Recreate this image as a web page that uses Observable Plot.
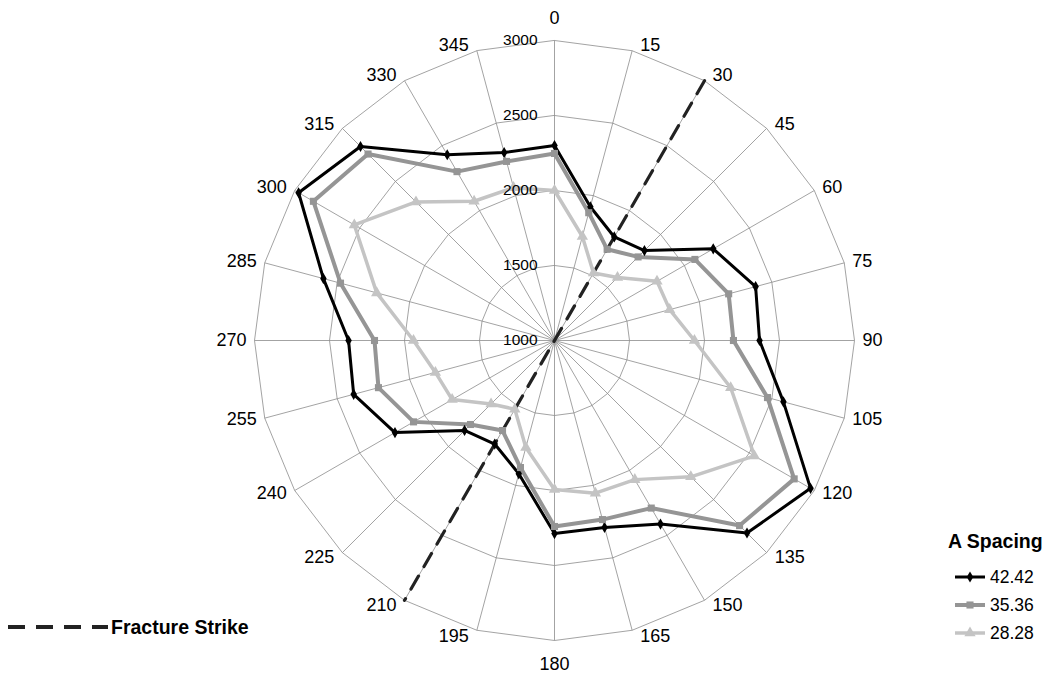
<!DOCTYPE html>
<html>
<head>
<meta charset="utf-8">
<script src="https://cdn.jsdelivr.net/npm/d3@7"></script>
<script src="https://cdn.jsdelivr.net/npm/@observablehq/plot@0.6"></script>
<style>
  html, body { margin: 0; padding: 0; background: #fff; }
  #wrap { position: relative; width: 1049px; height: 677px; font-family: "Liberation Sans", Arial, sans-serif; }
  #chart svg { display: block; }
  .leg { position: absolute; display: flex; align-items: center; color: #000; white-space: nowrap; }
</style>
</head>
<body>
<div id="wrap">
  <div id="chart"></div>
</div>
<script>
// ---- data ----
const angles = [0,15,30,45,60,75,90,105,120,135,150,165,180,195,210,225,240,255,270,285,300,315,330,345];
const spacings = ["42.42", "35.36", "28.28"];
const values4242 = [2300,1923,1797,1848,2222,2388,2367,2580,2971,2815,2413,2290,2287,1920,1797,1848,2228,2386,2373,2595,2970,2829,2430,2297];
const values3536 = [2247,1882,1702,1788,2081,2202,2193,2470,2845,2745,2290,2236,2240,1877,1693,1792,2085,2215,2200,2477,2856,2758,2300,2236];
const values2828 = [2000,1718,1520,1594,1789,1795,1933,2216,2539,2285,2071,2054,1993,1738,1529,1598,1788,1822,1940,2227,2541,2306,2072,2055];
const tickValues = [1000, 1500, 2000, 2500, 3000];
const ringLevels = [1500, 2000, 2500, 3000];
const fractureStrike = [30, 210];
const fractureLabel = "Fracture Strike";
const legendTitle = "A Spacing";

// ---- styles ----
const rMin = 1000, rMax = 3000, R = rMax - rMin;
const seriesColors = ["#000000", "#959595", "#c4c4c4"];
const seriesWidths = [3, 4, 3.5];
const seriesSymbols = ["diamond", "square", "triangle"];
const seriesR = [3.4, 4, 4.2];
const gridColor = "#8c8c8c";
const font = "\"Liberation Sans\", Arial, sans-serif";

const rad = a => a * Math.PI / 180;
const px = (a, v) => (v - rMin) * Math.sin(rad(a));
const py = (a, v) => (v - rMin) * Math.cos(rad(a));

const allValues = [values4242, values3536, values2828];
const seriesData = spacings.map((s, i) => angles.map((a, j) => ({series: s, angle: a, value: allValues[i][j]})));
const ringData = ringLevels.flatMap(l => angles.map(a => ({level: l, angle: a})));
const fractureData = fractureStrike.map(a => ({angle: a, value: rMax}));

const rightAngles = angles.filter(a => a > 0 && a < 180);
const leftAngles = angles.filter(a => a > 180);
const labelOff = 40;

const marks = [
  Plot.line(ringData, {x: d => px(d.angle, d.level), y: d => py(d.angle, d.level), z: "level", curve: "linear-closed", stroke: gridColor, strokeWidth: 0.8}),
  Plot.link(angles, {x1: () => 0, y1: () => 0, x2: a => px(a, rMax), y2: a => py(a, rMax), stroke: gridColor, strokeWidth: 0.8}),
  Plot.line(fractureData, {x: d => px(d.angle, d.value), y: d => py(d.angle, d.value), stroke: "#222", strokeWidth: 3.2, strokeDasharray: "15,11"})
];
seriesData.forEach((data, i) => {
  marks.push(Plot.line(data, {x: d => px(d.angle, d.value), y: d => py(d.angle, d.value), curve: "linear-closed", stroke: seriesColors[i], strokeWidth: seriesWidths[i], strokeLinejoin: "miter"}));
});
seriesData.forEach((data, i) => {
  marks.push(Plot.dot(data, {x: d => px(d.angle, d.value), y: d => py(d.angle, d.value), symbol: () => seriesSymbols[i], r: seriesR[i], fill: seriesColors[i], stroke: "none"}));
});
marks.push(
  Plot.text(rightAngles, {x: a => px(a, rMax), y: a => (R + labelOff) * Math.cos(rad(a)), text: a => String(a), textAnchor: "start", dx: 8, fontSize: 18, fill: "#000"}),
  Plot.text(leftAngles, {x: a => px(a, rMax), y: a => (R + labelOff) * Math.cos(rad(a)), text: a => String(a), textAnchor: "end", dx: -8, fontSize: 18, fill: "#000"}),
  Plot.text([0], {x: a => px(a, rMax), y: a => py(a, rMax), text: a => String(a), textAnchor: "middle", dy: -22, fontSize: 18, fill: "#000"}),
  Plot.text([180], {x: a => px(a, rMax), y: a => py(a, rMax), text: a => String(a), textAnchor: "middle", dy: 24, fontSize: 18, fill: "#000"}),
  Plot.text(tickValues, {x: () => 0, y: v => v - rMin, text: v => String(v), textAnchor: "end", dx: -17, fontSize: 15.5, fill: "#000"})
);

const chart = Plot.plot({
  width: 1049, height: 677,
  marginLeft: 254, marginRight: 195, marginTop: 40, marginBottom: 37,
  style: {fontFamily: font, background: "#fff", overflow: "visible"},
  x: {domain: [-R, R], axis: null},
  y: {domain: [-R, R], axis: null},
  marks
});
document.getElementById("chart").appendChild(chart);

// ---- legends ----
const wrap = document.getElementById("wrap");
const title = document.createElement("div");
title.className = "leg";
title.style.cssText = "left:948px;top:530px;font-weight:bold;font-size:19.5px;";
title.textContent = legendTitle;
wrap.appendChild(title);

const symPaths = {diamond: d3.symbolDiamond, square: d3.symbolSquare, triangle: d3.symbolTriangle};
spacings.forEach((s, i) => {
  const row = document.createElement("div");
  row.className = "leg";
  row.style.cssText = `left:954px;top:${567 + i * 28}px;height:20px;font-size:17.5px;`;
  const sym = d3.symbol(symPaths[seriesSymbols[i]], Math.PI * seriesR[i] * seriesR[i])();
  row.innerHTML = `<svg width="34" height="20" style="margin-right:2px"><line x1="1" y1="10" x2="31" y2="10" stroke="${seriesColors[i]}" stroke-width="${seriesWidths[i]}"/><path d="${sym}" transform="translate(16,10)" fill="${seriesColors[i]}"/></svg><span>${s}</span>`;
  wrap.appendChild(row);
});

const frac = document.createElement("div");
frac.className = "leg";
frac.style.cssText = "left:8px;top:617px;height:20px;font-size:19.5px;font-weight:bold;";
frac.innerHTML = `<svg width="103" height="20"><line x1="0" y1="10" x2="100" y2="10" stroke="#222" stroke-width="4" stroke-dasharray="17,11"/></svg><span>${fractureLabel}</span>`;
wrap.appendChild(frac);
</script>
</body>
</html>
